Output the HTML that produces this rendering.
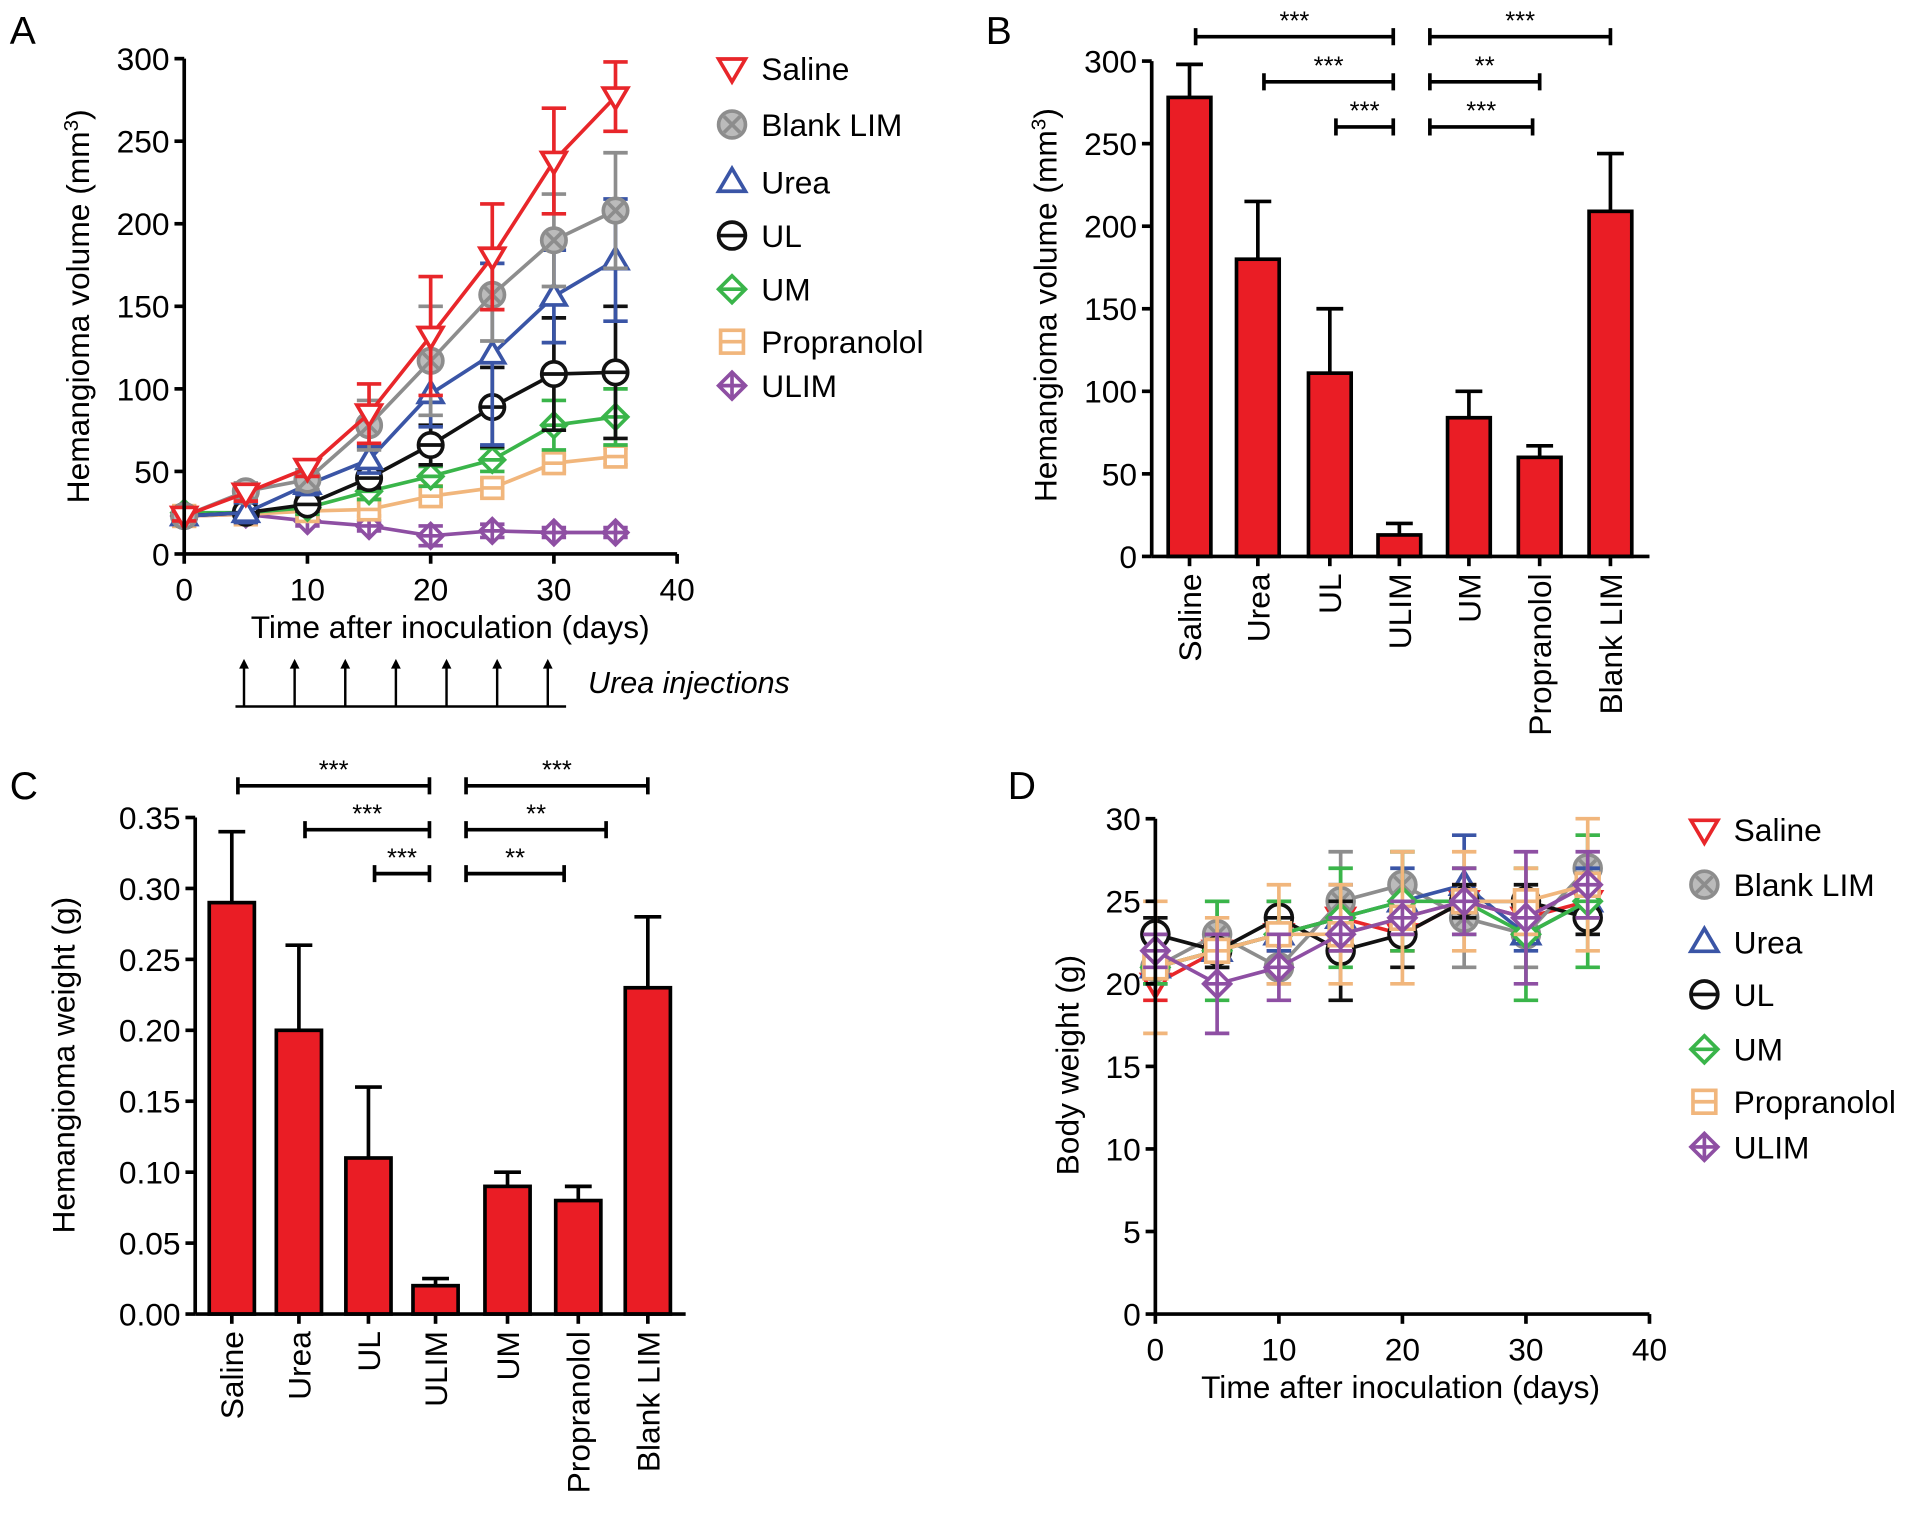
<!DOCTYPE html>
<html><head><meta charset="utf-8">
<style>
html,body{margin:0;padding:0;background:#fff;}
svg{display:block;font-family:"Liberation Sans",Arial,sans-serif;}
</style></head>
<body>
<svg id="fig" width="1913" height="1513" viewBox="0 0 1568 1240" xmlns="http://www.w3.org/2000/svg"></svg>
<script>
// ---------- data ----------
const days = [0,5,10,15,20,25,30,35];
const groupNames = ["Saline","Blank LIM","Urea","UL","UM","Propranolol","ULIM"];
const volSaline = [23,37,52,85,132,180,238,277];
const volSalineErr = [3,5,5,18,36,32,32,21];
const volBlank = [23,38,45,78,117,157,190,208];
const volBlankErr = [3,5,6,15,33,28,28,35];
const volUrea = [23,25,42,57,97,121,156,178];
const volUreaErr = [3,6,6,8,20,55,28,37];
const volUL = [23,25,30,46,66,89,109,110];
const volULErr = [3,3,4,6,12,24,34,40];
const volUM = [25,25,28,38,47,57,78,83];
const volUMErr = [3,3,4,5,6,7,15,17];
const volProp = [23,24,26,27,35,40,55,59];
const volPropErr = [3,3,3,4,5,5,5,5];
const volULIM = [23,24,20,17,11,14,13,13];
const volULIMErr = [3,3,3,3,6,4,3,3];

const bwSaline = [20,22,23,24,23,25,24,25];
const bwSalineErr = [1,1,1,1,1,1,1,1];
const bwBlank = [21,23,21,25,26,24,23,27];
const bwBlankErr = [1,2,1,3,2,3,2,2];
const bwUrea = [21,22,23,24,25,26,23,25];
const bwUreaErr = [1,1,1,2,2,3,1,2];
const bwUL = [23,22,24,22,23,25,25,24];
const bwULErr = [1,1,1,3,2,1,1,1];
const bwUM = [21,22,23,24,25,25,23,25];
const bwUMErr = [1,3,2,3,3,2,4,4];
const bwProp = [21,22,23,23,24,25,25,26];
const bwPropErr = [4,2,3,3,4,3,2,4];
const bwULIM = [22,20,21,23,24,25,24,26];
const bwULIMErr = [1,3,2,1,1,2,4,2];

const barCats = ["Saline","Urea","UL","ULIM","UM","Propranolol","Blank LIM"];
const volBars = [278,180,111,13,84,60,209];
const volBarsErr = [20,35,39,7,16,7,35];
const wtBars = [0.29,0.20,0.11,0.02,0.09,0.08,0.23];
const wtBarsErr = [0.05,0.06,0.05,0.005,0.01,0.01,0.05];
const volTicks = [0,50,100,150,200,250,300];
const wtTicks = ["0.00","0.05","0.10","0.15","0.20","0.25","0.30","0.35"];
const bwTicks = [0,5,10,15,20,25,30];
const dayTicks = [0,10,20,30,40];
const sigB = [[0,3,0,"***"],[4,6,0,"***"],[1,3,1,"***"],[4,5,1,"**"],[2,3,2,"***"],[4,4.9,2,"***"]];
const sigC = [[0,3,0,"***"],[4,6,0,"***"],[1,3,1,"***"],[4,5.4,1,"**"],[2,3,2,"***"],[4,4.8,2,"**"]];

// ---------- helpers ----------
const NS="http://www.w3.org/2000/svg";
const svg=document.getElementById('fig');
function el(tag,attrs,parent,text){const e=document.createElementNS(NS,tag);for(const k in attrs)e.setAttribute(k,attrs[k]);if(text!==undefined)e.textContent=text;(parent||svg).appendChild(e);return e;}
function grp(name){const g=el('g',{});


return g;}
function lin(d0,d1,r0,r1){return v=>r0+(v-d0)/(d1-d0)*(r1-r0);}

const colors={"Saline":"#e8262a","Blank LIM":"#8d8d8d","Urea":"#3a55a6","UL":"#111","UM":"#3ab54a","Propranolol":"#f1b67c","ULIM":"#8e4fa3"};

function marker(g,name,x,y,r,sw){
  const c=colors[name];const a={fill:'#fff',stroke:c,'stroke-width':sw};
  if(name==="Saline"){el('polygon',Object.assign({points:`${x-r},${y-r*0.7} ${x+r},${y-r*0.7} ${x},${y+r}`},a),g);}
  else if(name==="Urea"){el('polygon',Object.assign({points:`${x-r},${y+r*0.7} ${x+r},${y+r*0.7} ${x},${y-r}`},a),g);}
  else if(name==="Blank LIM"){el('circle',Object.assign({cx:x,cy:y,r:r},a,{fill:'#bbb'}),g);el('path',{d:`M${x-r*.6},${y-r*.6}L${x+r*.6},${y+r*.6}M${x-r*.6},${y+r*.6}L${x+r*.6},${y-r*.6}`,stroke:c,'stroke-width':sw},g);}
  else if(name==="UL"){el('circle',Object.assign({cx:x,cy:y,r:r},a),g);el('line',{x1:x-r,y1:y,x2:x+r,y2:y,stroke:c,'stroke-width':sw},g);}
  else if(name==="UM"){el('polygon',Object.assign({points:`${x-r},${y} ${x},${y-r} ${x+r},${y} ${x},${y+r}`},a),g);el('line',{x1:x-r,y1:y,x2:x+r,y2:y,stroke:c,'stroke-width':sw},g);}
  else if(name==="Propranolol"){el('rect',Object.assign({x:x-r*.85,y:y-r*.85,width:r*1.7,height:r*1.7},a),g);el('line',{x1:x-r*.85,y1:y,x2:x+r*.85,y2:y,stroke:c,'stroke-width':sw},g);}
  else if(name==="ULIM"){el('polygon',Object.assign({points:`${x-r},${y} ${x},${y-r} ${x+r},${y} ${x},${y+r}`},a),g);el('path',{d:`M${x-r},${y}H${x+r}M${x},${y-r}V${y+r}`,stroke:c,'stroke-width':sw},g);}
}

function yAxis(g,x,sy,ticks,vals,fs,y0,y1){
  el('line',{x1:x,y1:y0,x2:x,y2:y1,stroke:'#000','stroke-width':3},g);
  ticks.forEach((t,i)=>{const y=sy(vals[i]);el('line',{x1:x-8,y1:y,x2:x,y2:y,stroke:'#000','stroke-width':3},g);
    const tx=el('text',{x:x-12,y:y+fs*0.36,'font-size':fs,'text-anchor':'end'},g,String(t));
    
    });
}
function xAxisNum(g,y,sx,ticks,fs,x0,x1){
  el('line',{x1:x0,y1:y,x2:x1,y2:y,stroke:'#000','stroke-width':3},g);
  ticks.forEach(t=>{const x=sx(t);el('line',{x1:x,y1:y,x2:x,y2:y+8,stroke:'#000','stroke-width':3},g);
    const tx=el('text',{x:x,y:y+38,'font-size':fs,'text-anchor':'middle'},g,String(t));
    
    });
}

function lineChart(name,x0,yb,x1,yt,ymax,ticks,series,errs,r,sw,fs,order){
  const g=grp(name);
  const sx=lin(0,40,x0,x1), sy=lin(0,ymax,yb,yt);
  order.forEach(n=>{
    const vals=series[n],er=errs[n];const c=colors[n];
    const sg=grp('series-'+n.toLowerCase().replace(/ /g,'-'));g.appendChild(sg);
    days.forEach((d,i)=>{const x=sx(d);el('path',{d:`M${x},${sy(vals[i]-er[i])}V${sy(vals[i]+er[i])}M${x-10},${sy(vals[i]+er[i])}H${x+10}M${x-10},${sy(vals[i]-er[i])}H${x+10}`,stroke:c,'stroke-width':sw,fill:'none'},sg);});
    el('polyline',{points:days.map((d,i)=>sx(d)+','+sy(vals[i])).join(' '),fill:'none',stroke:c,'stroke-width':sw},sg);
    days.forEach((d,i)=>marker(sg,n,sx(d),sy(vals[i]),r,sw));
  });
  yAxis(g,x0,sy,ticks,ticks,fs,yb,yt);
  xAxisNum(g,yb,sx,dayTicks,fs,x0,x1);
  return {g,sx,sy};
}

function legend(name,x,ys,fs,r){
  const g=grp(name);
  groupNames.forEach((n,i)=>{const lg=grp('legend-entry');g.appendChild(lg);
    marker(lg,n,x,ys[i],r,3);el('text',{x:x+24,y:ys[i]+fs*0.36,'font-size':fs},lg,n);});
}

function barChart(name,x0,yb,yt,ymax,tickLabels,tickVals,vals,errs,centers,bw,fs,xEnd){
  const g=grp(name);const sy=lin(0,ymax,yb,yt);
  vals.forEach((v,i)=>{const cx=centers[i];
    el('path',{d:`M${cx},${sy(v)}V${sy(v+errs[i])}M${cx-11},${sy(v+errs[i])}H${cx+11}`,stroke:'#000','stroke-width':3},g);
    const b=el('rect',{x:cx-bw/2,y:sy(v),width:bw,height:yb-sy(v),fill:'#ea1d25',stroke:'#000','stroke-width':3},g);
    
    
    el('line',{x1:cx,y1:yb,x2:cx,y2:yb+8,stroke:'#000','stroke-width':3},g);
    const t=el('text',{x:0,y:0,'font-size':fs,'text-anchor':'end',transform:`translate(${cx+fs*0.36},${yb+14}) rotate(-90)`},g,barCats[i]);
    
    
  });
  el('line',{x1:x0,y1:yb,x2:xEnd,y2:yb,stroke:'#000','stroke-width':3},g);
  yAxis(g,x0,sy,tickLabels,tickVals,fs,yb,yt);
  return g;
}
function sig(g,centers,list,ys){
  list.forEach(s=>{const i0=s[0],i1=s[1];
    const lerp=v=>{const a=Math.floor(v),f=v-a;return a+1<centers.length?centers[a]+(centers[a+1]-centers[a])*f:centers[a];};
    let xa=lerp(i0)+(i0>=4?-38:5), xb=lerp(i1)-(i1===3?5:0);
    if(i0===4){xa=lerp(3)+25;}
    const y=ys[s[2]];
    el('path',{d:`M${xa},${y}H${xb}M${xa},${y-7}V${y+7}M${xb},${y-7}V${y+7}`,stroke:'#000','stroke-width':3},g);
    el('text',{x:(xa+xb)/2,y:y-6,'font-size':21,'text-anchor':'middle'},g,s[3]);
  });
}

// ---------- Panel A ----------
el('text',{x:8,y:36,'font-size':32},svg,"A");
lineChart('panel-a-tumor-volume',151,454,555,48,300,volTicks,
 {"Saline":volSaline,"Blank LIM":volBlank,"Urea":volUrea,"UL":volUL,"UM":volUM,"Propranolol":volProp,"ULIM":volULIM},
 {"Saline":volSalineErr,"Blank LIM":volBlankErr,"Urea":volUreaErr,"UL":volULErr,"UM":volUMErr,"Propranolol":volPropErr,"ULIM":volULIMErr},10,3,26,groupNames.slice().reverse());
el('text',{x:0,y:0,'font-size':26,'text-anchor':'middle',transform:'translate(73,251) rotate(-90)'},svg).innerHTML='Hemangioma volume (mm<tspan dy="-9" font-size="17">3</tspan><tspan dy="9">)</tspan>';
el('text',{x:369,y:523,'font-size':26,'text-anchor':'middle'},svg,"Time after inoculation (days)");
legend('legend-a',600,[56,102,149,193,237,280,316],26,11);
{const g=grp('urea-injections');
 el('line',{x1:193,y1:579,x2:464,y2:579,stroke:'#000','stroke-width':2},g);
 for(let k=0;k<7;k++){const x=200+k*41.5;el('path',{d:`M${x},579V545`,stroke:'#000','stroke-width':2},g);el('polygon',{points:`${x-4},548 ${x+4},548 ${x},540`,fill:'#000'},g);}
 el('text',{x:482,y:568,'font-size':25,'font-style':'italic'},g,"Urea injections");}

// ---------- Panel B ----------
el('text',{x:808,y:36,'font-size':32},svg,"B");
const cB=[975,1031,1090,1147,1204,1262,1320];
const gB=barChart('panel-b-volume-bars',944,456,50,300,volTicks,volTicks,volBars,volBarsErr,cB,35,26,1352);
sig(gB,cB,sigB,[30,67,104]);
el('text',{x:0,y:0,'font-size':26,'text-anchor':'middle',transform:'translate(866,250) rotate(-90)'},svg).innerHTML='Hemangioma volume (mm<tspan dy="-9" font-size="17">3</tspan><tspan dy="9">)</tspan>';

// ---------- Panel C ----------
el('text',{x:8,y:655,'font-size':32},svg,"C");
const cC=[190,245,302,357,416,474,531];
const gC=barChart('panel-c-weight-bars',160,1077,670,0.35,wtTicks,wtTicks.map(Number),wtBars,wtBarsErr,cC,37,26,562);
sig(gC,cC,sigC,[644,680,716]);
el('text',{x:0,y:0,'font-size':26,'text-anchor':'middle',transform:'translate(61,873) rotate(-90)'},svg,"Hemangioma weight (g)");

// ---------- Panel D ----------
el('text',{x:826,y:655,'font-size':32},svg,"D");
lineChart('panel-d-body-weight',947,1077,1352,671,30,bwTicks,
 {"Saline":bwSaline,"Blank LIM":bwBlank,"Urea":bwUrea,"UL":bwUL,"UM":bwUM,"Propranolol":bwProp,"ULIM":bwULIM},
 {"Saline":bwSalineErr,"Blank LIM":bwBlankErr,"Urea":bwUreaErr,"UL":bwULErr,"UM":bwUMErr,"Propranolol":bwPropErr,"ULIM":bwULIMErr},11,3,26,groupNames.slice());
el('text',{x:0,y:0,'font-size':26,'text-anchor':'middle',transform:'translate(884,873) rotate(-90)'},svg,"Body weight (g)");
el('text',{x:1148,y:1146,'font-size':26,'text-anchor':'middle'},svg,"Time after inoculation (days)");
legend('legend-d',1397,[680,725,772,815,860,903,940],26,11);
</script>
</body></html>
